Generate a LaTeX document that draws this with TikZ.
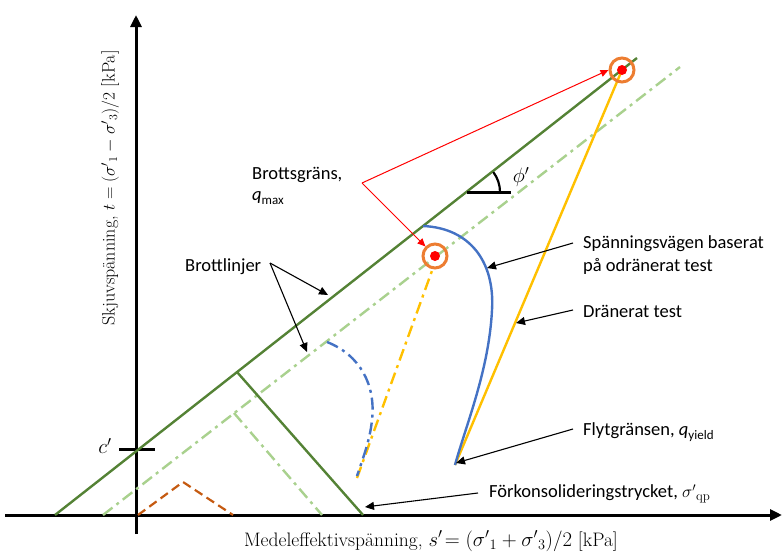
\documentclass[tikz,border=0pt]{standalone}
\usepackage{fontspec}
\usepackage{amsmath}
\newfontfamily\calib{Carlito}
\usetikzlibrary{arrows.meta}
\definecolor{dgreen}{HTML}{548235}
\definecolor{lgreen}{HTML}{A9D18E}
\definecolor{mblue}{HTML}{4472C4}
\definecolor{myellow}{HTML}{FFC000}
\definecolor{morange}{HTML}{ED7D31}
\definecolor{mbrown}{HTML}{C55A11}
\tikzset{
  axisline/.style={line width=3pt,black},
  failline/.style={line width=2.4pt,dgreen},
  dashdot/.style={dash pattern=on 12pt off 5pt on 3pt off 5pt},
  lgline/.style={line width=2.4pt,lgreen,dashdot},
  lbl/.style={font=\calib\fontsize{18.5}{22.5}\selectfont,anchor=west,inner sep=0pt,align=left},
  axlbl/.style={font=\fontsize{19.5}{22}\selectfont,inner sep=0pt},
  ptr/.style={line width=1.1pt,black,-{Triangle[width=8pt,length=9pt]}},
  redptr/.style={line width=1pt,red,-{Triangle[width=7pt,length=8pt]}},
  ring/.style={circle,draw=morange,line width=3pt,minimum size=24pt,inner sep=0pt},
  dotred/.style={circle,fill=red,minimum size=10pt,inner sep=0pt},
}
\begin{document}
\begin{tikzpicture}[x=1pt,y=-1pt]
\useasboundingbox (0,0) rectangle (782,552);
% axes
\coordinate (xl) at (5,515);
\coordinate (xr) at (782,515);
\coordinate (yb) at (136,534);
\coordinate (yt) at (136,15);
\draw[axisline,-{Triangle[width=11pt,length=12pt]}] (xl) -- (xr);
\draw[axisline,-{Triangle[width=11pt,length=12pt]}] (yb) -- (yt);
% c' tick
\coordinate (cl) at (119,449);
\coordinate (cr) at (155,449);
\draw[line width=3pt] (cl) -- (cr);
\node[font=\fontsize{21}{22}\selectfont] (cp) at (105,446) {$c'$};
% failure line solid
\coordinate (f0) at (55,515);
\coordinate (f1) at (637,58);
\draw[failline] (f0) -- (f1);
% light green dash-dot line
\coordinate (g0) at (103,515);
\coordinate (g1) at (680,67);
\draw[lgline] (g0) -- (g1);
% yield caps
\coordinate (yc1) at (237,372);
\coordinate (yc1r) at (363,515);
\draw[failline] (yc1) -- (yc1r);
\coordinate (yc2) at (234,413);
\coordinate (yc2r) at (322,515);
\draw[lgline] (yc2) -- (yc2r);
% orange dashed
\coordinate (o0) at (138,515);
\coordinate (o1) at (183,482);
\coordinate (o2) at (233,515);
\draw[mbrown,line width=2.2pt,dash pattern=on 9pt off 5pt] (o0) -- (o1) -- (o2);
% phi angle
\coordinate (ph0) at (467,192);
\coordinate (ph1) at (511,192);
\draw[line width=3pt] (ph0) -- (ph1);
\draw[line width=2.2pt] (500,192) arc[start angle=0,end angle=-37,radius=33];
\node[font=\fontsize{21}{22}\selectfont] (phi) at (521,177) {$\phi'$};
% drained test
\coordinate (ys) at (455,465);
\coordinate (ye) at (622,70);
\draw[myellow,line width=2.4pt] (ys) -- (ye);
% undrained path
\draw[mblue,line width=2.4pt] (423,226) .. controls (470,228) and (495,262) .. (492,310) .. controls (489,370) and (466,425) .. (ys);
% dash-dot yellow
\coordinate (yd0) at (357,478);
\coordinate (yd1) at (433,268);
\draw[myellow,line width=2.4pt,dashdot] (yd0) -- (yd1);
% dash-dot blue
\draw[mblue,line width=2.4pt,dashdot] (327,342) .. controls (360,355) and (376,385) .. (372,420) .. controls (370,440) and (363,458) .. (357,476);
% failure points
\node[ring] (pu) at (622,70) {};
\node[dotred] at (622,70) {};
\node[ring] (pl) at (435,256) {};
\node[dotred] at (435,256) {};
% Brottsgräns label
\node[lbl] (bg) at (252,175) {Brottsgräns,};
\node[lbl] (qm) at (252,198) {\textit{q}\raisebox{-4pt}{\fontsize{13}{13}\selectfont max}};
\coordinate (rv) at (362,183);
\draw[redptr] (rv) -- (pu.west);
\draw[redptr] (rv) -- (pl.north west);
% Brottlinjer
\node[lbl] (bl) at (185,267) {Brottlinjer};
\coordinate (bla) at (270,263);
\coordinate (blt1) at (328,295);
\coordinate (blt2) at (307,352);
\draw[ptr] (bla) -- (blt1);
\draw[ptr] (bla) -- (blt2);
% right labels
\node[lbl] (sp) at (583,255) {Spänningsvägen baserat\\på odränerat test};
\coordinate (spa) at (573,243);
\coordinate (spt) at (487,268);
\draw[ptr] (spa) -- (spt);
\node[lbl] (dt) at (583,311) {Dränerat test};
\coordinate (dta) at (573,310);
\coordinate (dtt) at (516,323);
\draw[ptr] (dta) -- (dtt);
\node[lbl] (fg) at (583,432) {Flytgränsen, \textit{q}\raisebox{-4pt}{\fontsize{13}{13}\selectfont yield}};
\coordinate (fga) at (573,429);
\coordinate (fgt) at (456,463);
\draw[ptr] (fga) -- (fgt);
\node[lbl] (fk) at (489,494) {Förkonsolideringstrycket, $\sigma'{}_{\mathrm{qp}}$};
\coordinate (fka) at (478,493);
\coordinate (fkt) at (365,507);
\draw[ptr] (fka) -- (fkt);
% axis labels
\node[axlbl] (xlab) at (431,541) {Medeleffektivspänning, $s'\!=(\sigma'{}_1+\sigma'{}_3)/2$ [kPa]};
\node[axlbl,font=\fontsize{18}{20}\selectfont,rotate=90] (ylab) at (110,188) {Skjuvspänning, $t=(\sigma'{}_1-\sigma'{}_3)/2$ [kPa]};
\end{tikzpicture}
\end{document}
